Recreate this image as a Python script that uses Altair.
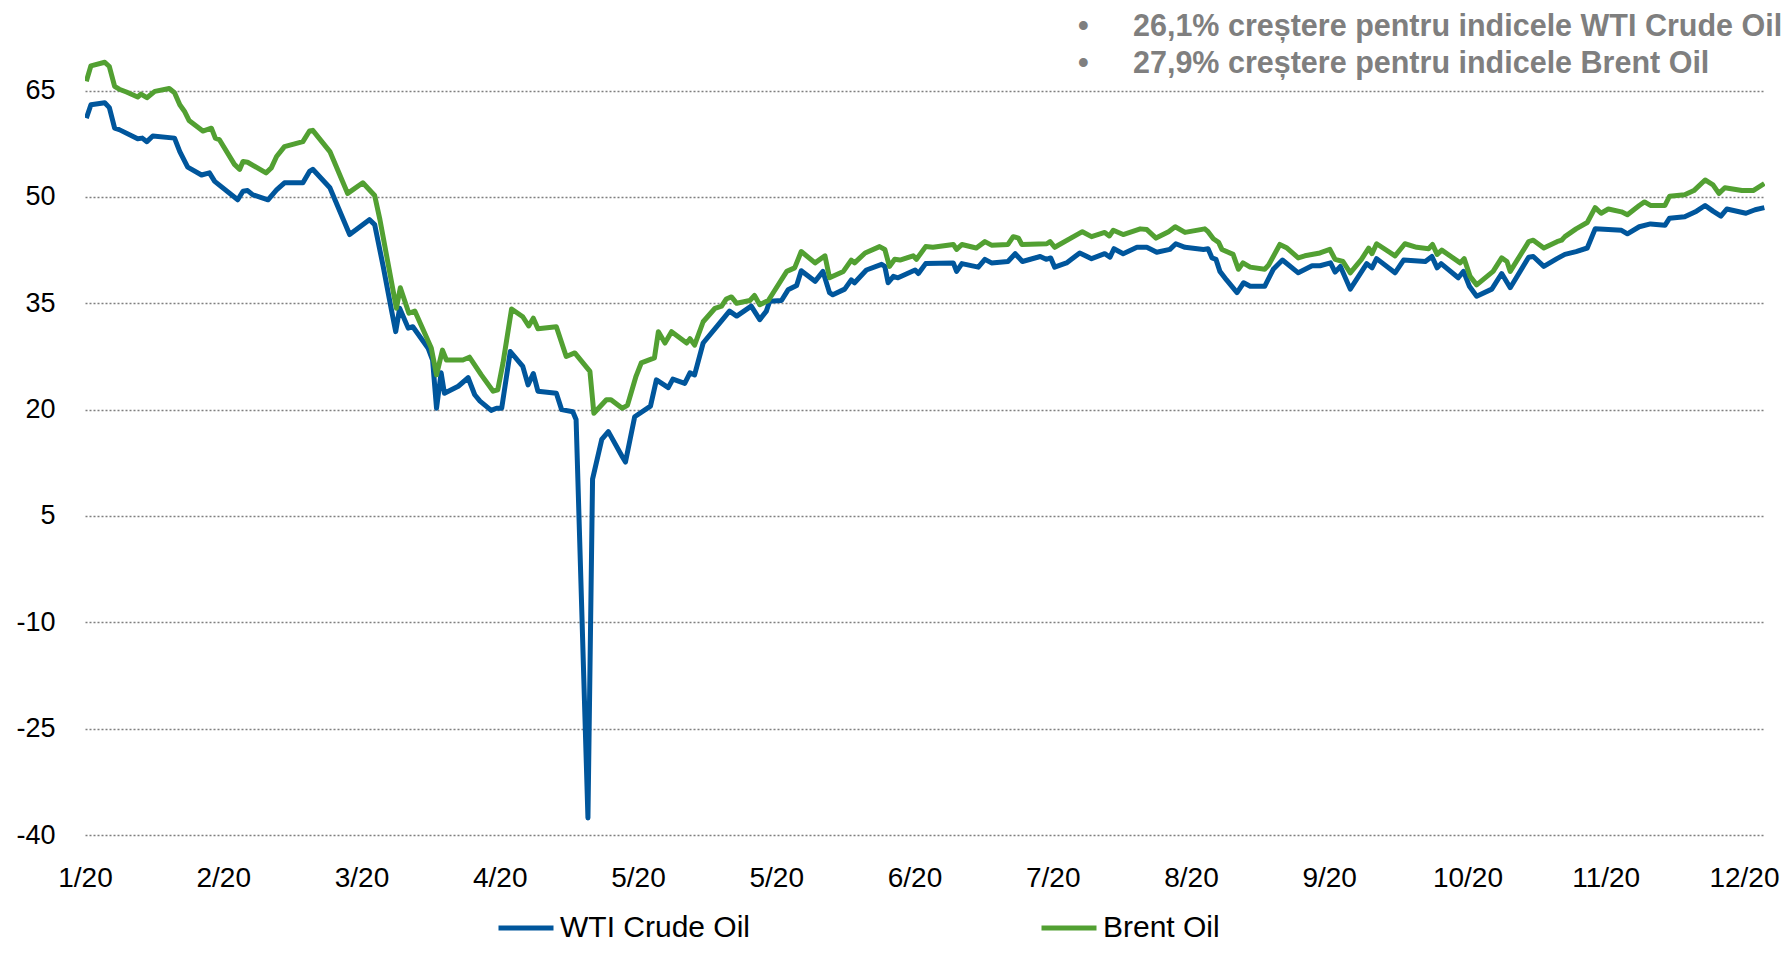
import json
import altair as alt
import pandas as pd

# x positions are trading-day indices (21 trading days between axis labels)
tick_days = [0, 21, 42, 63, 84, 105, 126, 147, 168, 189, 210, 231, 252]
tick_labels = ["1/20", "2/20", "3/20", "4/20", "5/20", "5/20", "6/20",
               "7/20", "8/20", "9/20", "10/20", "11/20", "12/20"]
y_ticks = [-40, -25, -10, 5, 20, 35, 50, 65]

series_names = ["WTI Crude Oil", "Brent Oil"]
series_colors = ["#00569c", "#52a032"]

wti_day = [0.2, 0.9, 3.0, 3.7, 4.5, 5.2, 8.0, 8.7, 9.4, 10.3, 13.6, 14.4, 15.6, 17.7,
           18.9, 19.7, 23.2, 24.0, 24.7, 25.5, 27.8, 29.1, 30.3, 33.1, 34.1, 34.6,
           37.2, 40.2, 43.2, 44.0, 45.3, 46.5, 47.2, 47.8, 49.1, 49.8, 52.1, 52.8,
           53.4, 54.1, 54.6, 56.7, 58.2, 59.2, 60.0, 61.7, 62.5, 63.3, 64.6, 66.5,
           67.3, 68.1, 68.8, 71.6, 72.4, 74.1, 74.6, 76.4, 77.1, 78.5, 79.5, 81.6,
           82.1, 83.5, 85.9, 86.8, 88.6, 89.3, 91.1, 91.9, 92.6, 93.9, 96.4, 97.9,
           99.0, 101.2, 102.5, 103.5, 104.0, 105.8, 106.8, 108.1, 108.8, 110.9,
           112.1, 113.1, 113.6, 115.4, 116.4, 116.9, 118.7, 121.0, 121.5, 122.0,
           122.8, 123.5, 126.1, 126.6, 127.7, 131.9, 132.4, 133.2, 135.7, 136.7,
           137.7, 140.2, 141.3, 142.4, 145.1, 146.0, 146.7, 147.3, 149.1, 151.1,
           152.9, 154.9, 155.7, 156.3, 157.7, 159.8, 161.3, 162.8, 164.8, 165.7,
           167.1, 169.9, 170.6, 171.2, 171.8, 172.4, 173.4, 175.0, 176.0, 177.0,
           179.2, 180.5, 181.9, 184.3, 186.4, 187.6, 189.2, 189.9, 190.7, 192.2,
           194.7, 195.5, 196.2, 199.0, 200.3, 203.6, 204.6, 205.4, 206.0, 208.6,
           209.4, 210.3, 211.4, 213.7, 215.2, 216.5, 219.3, 220.0, 221.6, 223.6,
           224.8, 226.5, 228.2, 229.4, 233.4, 234.3, 236.1, 237.8, 240.0, 240.7,
           243.0, 244.8, 246.1, 247.3, 248.5, 249.4, 252.3, 253.7, 255.1]
wti_val = [61.1, 63.0, 63.3, 62.6, 59.7, 59.5, 58.2, 58.3, 57.8, 58.6, 58.3, 56.4, 54.2,
           53.1, 53.4, 52.2, 49.6, 50.8, 50.9, 50.3, 49.6, 51.0, 52.0, 52.0, 53.6, 53.9,
           51.3, 44.7, 46.8, 46.1, 40.2, 34.3, 31.0, 34.3, 31.5, 31.7, 28.7, 27.0,
           20.2, 25.2, 22.3, 23.3, 24.5, 22.1, 21.2, 19.9, 20.2, 20.2, 28.2, 26.1,
           23.5, 25.1, 22.6, 22.3, 20.0, 19.7, 18.6, -37.6, 10.2, 15.8, 16.9, 13.4,
           12.6, 19.0, 20.5, 24.2, 23.1, 24.3, 23.7, 25.2, 24.9, 29.4, 32.2, 33.9,
           33.2, 34.6, 32.7, 33.9, 35.3, 35.4, 36.9, 37.5, 39.6, 38.1,
           39.5, 36.5, 36.2, 37.0, 38.3, 37.9, 39.7, 40.5, 40.2, 37.9,
           38.8, 38.6, 39.7, 39.2, 40.6, 40.7, 39.5, 40.6, 40.1, 41.2,
           40.7, 40.9, 42.0, 40.9, 41.6, 41.2, 41.4, 40.1, 40.7, 42.1,
           41.3, 42.0, 41.5, 42.7, 42.0, 42.9, 42.9, 42.2, 42.6, 43.4,
           42.9, 42.6, 42.7, 41.4, 41.2, 39.5, 38.3, 36.5, 37.9, 37.4,
           37.4, 39.8, 41.1, 39.3, 40.3, 40.3, 40.7, 39.4, 40.2, 37.0,
           40.6, 40.0, 41.3, 39.3, 41.1, 40.9, 41.6, 40.0, 40.6, 38.6,
           39.5, 37.4, 36.0, 37.0, 39.2, 37.2, 41.5, 41.6, 40.2, 41.3,
           41.9, 42.3, 42.8, 45.5, 45.3, 44.8, 45.8, 46.2, 46.0, 47.0,
           47.2, 48.0, 48.8, 48.0, 47.3, 48.3, 47.7, 48.2, 48.5]

brent_day = [0.2, 0.9, 3.0, 3.7, 4.5, 5.2, 6.3, 8.0, 8.5, 9.4, 10.6, 12.8, 13.6, 14.4,
             15.1, 15.8, 17.9, 19.2, 19.8, 20.4, 22.7, 23.5, 24.0, 24.7, 27.5, 28.3,
             29.1, 30.3, 33.1, 34.1, 34.6, 37.2, 39.9, 42.2, 44.0, 44.8, 47.3, 47.9,
             49.2, 50.1, 52.6, 53.4, 54.3, 54.9, 57.4, 58.4, 60.2, 62.0, 62.7, 63.5,
             64.8, 66.5, 67.4, 68.1, 68.8, 71.6, 73.1, 74.4, 76.7, 77.3, 79.2, 79.9,
             81.6, 82.4, 83.7, 84.5, 86.5, 87.1, 88.1, 89.1, 91.4, 91.9, 92.6, 93.9,
             95.7, 96.7, 97.4, 98.2, 99.0, 101.0, 101.7, 102.5, 103.8, 106.6, 107.8,
             108.8, 110.9, 112.4, 113.1, 115.2, 116.4, 116.9, 118.5, 120.7, 121.5,
             122.2, 123.0, 123.8, 125.8, 126.3, 127.7, 128.8, 131.9, 132.4, 133.2,
             135.4, 136.7, 137.7, 140.2, 141.0, 141.8, 142.3, 146.1, 146.6, 147.3,
             151.1, 151.5, 152.9, 154.9, 155.6, 156.2, 157.7, 160.3, 161.3, 162.7,
             164.6, 165.6, 167.1, 170.1, 170.6, 171.4, 172.2, 172.7, 174.4, 175.2,
             175.9, 177.0, 179.2, 179.8, 181.5, 182.6, 184.3, 185.3, 187.6, 189.1,
             189.9, 191.1, 192.2, 193.9, 195.0, 195.5, 196.2, 199.0, 200.5, 202.3,
             204.1, 204.7, 205.4, 206.1, 208.9, 209.5, 210.4, 211.4, 213.9, 215.2,
             216.0, 216.5, 219.3, 220.0, 221.6, 223.6, 224.3, 224.8, 226.5, 228.2,
             229.4, 230.3, 231.4, 233.4, 234.3, 236.1, 236.9, 237.8, 240.0, 240.7,
             243.0, 244.4, 246.1, 247.3, 248.2, 249.1, 251.7, 253.4, 255.1]
brent_val = [66.3, 68.5, 69.0, 68.4, 65.6, 65.2, 64.8, 64.1, 64.5, 64.0, 64.9, 65.3, 64.7,
             63.0, 62.1, 60.8, 59.3, 59.7, 58.3, 58.1, 54.6, 53.9, 55.0, 54.9, 53.4, 54.1,
             55.7, 57.1, 57.8, 59.3, 59.4, 56.4, 50.5, 52.0, 50.2, 46.8, 34.3, 37.2,
             33.6, 33.9, 28.7, 24.9, 28.4, 27.0, 27.0, 27.4, 24.9, 22.6, 22.8, 26.6,
             34.2, 33.1, 31.8, 32.9, 31.4, 31.7, 27.5, 28.0, 25.4, 19.5, 21.4, 21.4,
             20.2, 20.6, 24.7, 26.6, 27.3, 31.0, 29.4, 31.0, 29.4, 30.0, 29.1, 32.4,
             34.3, 34.6, 35.6, 35.9, 35.0, 35.4, 36.1, 34.8, 35.4, 39.5, 40.0,
             42.3, 40.7, 41.7, 38.6, 39.5, 41.1, 40.7, 42.1, 43.0, 42.6,
             40.2, 41.2, 41.1, 41.7, 41.2, 43.0, 42.9, 43.3, 42.6, 43.3,
             42.8, 43.7, 43.2, 43.3, 44.4, 44.2, 43.3, 43.4, 43.7, 42.9,
             44.9, 45.1, 44.4, 45.0, 44.5, 45.3, 44.7, 45.5, 45.4, 44.2,
             45.1, 45.8, 45.0, 45.5, 45.1, 44.1, 43.6, 42.6, 41.9, 39.8,
             40.7, 40.1, 39.8, 40.4, 43.3, 42.8, 41.4, 41.7, 42.1, 42.6,
             41.2, 40.9, 39.3, 41.2, 42.8, 42.0, 43.4, 41.7, 43.4, 42.9,
             42.7, 43.3, 41.9, 42.5, 40.7, 41.3, 38.8, 37.6, 39.5, 41.4,
             40.9, 39.5, 43.7, 43.9, 42.8, 43.7, 43.9, 44.4, 45.5, 46.4,
             48.5, 47.7, 48.3, 47.9, 47.5, 48.8, 49.3, 48.8, 48.8, 50.1,
             50.3, 50.9, 52.4, 51.7, 50.5, 51.3, 50.9, 50.9, 51.9]

note_lines = ["26,1% creștere pentru indicele WTI Crude Oil",
              "27,9% creștere pentru indicele Brent Oil"]

rows = []
for i, (d, v) in enumerate(zip(wti_day, wti_val)):
    rows.append({"day": d, "value": v, "series": series_names[0], "ord": i})
for i, (d, v) in enumerate(zip(brent_day, brent_val)):
    rows.append({"day": d, "value": v, "series": series_names[1], "ord": i})
df = pd.DataFrame(rows)

FONT = "Liberation Sans"
label_expr = json.dumps(tick_labels) + "[round(datum.value / 21)]"

lines = alt.Chart(df).mark_line(strokeWidth=5, strokeJoin="round", clip=True).encode(
    x=alt.X("day:Q",
            scale=alt.Scale(domain=[0, 255.2], nice=False, zero=False),
            axis=alt.Axis(values=tick_days, labelExpr=label_expr, title=None,
                          grid=False, domain=False, ticks=False, labelPadding=29,
                          labelFontSize=28, labelColor="#000000", labelFont=FONT,
                          labelOverlap=False, labelFlush=False)),
    y=alt.Y("value:Q",
            scale=alt.Scale(domain=[-40, 72], nice=False, zero=False),
            axis=alt.Axis(values=y_ticks, title=None, grid=True, gridDash=[2, 2],
                          gridColor="#7f7f7f", gridWidth=1.6, domain=False, ticks=False,
                          labelExpr="datum.value + ''",
                          labelPadding=30, labelFontSize=27, labelColor="#000000",
                          labelFont=FONT)),
    color=alt.Color("series:N",
                    scale=alt.Scale(domain=series_names, range=series_colors),
                    legend=alt.Legend(title=None, orient="none", direction="horizontal",
                                      legendX=411, legendY=857, symbolType="stroke",
                                      symbolSize=3025, symbolStrokeWidth=5,
                                      labelFontSize=30, labelFont=FONT,
                                      labelColor="#000000", labelOffset=4,
                                      columnPadding=280, labelLimit=400)),
    order="ord:Q",
)

bullet_style = dict(font=FONT, fontSize=30.5, fontWeight="bold", color="#7f7f7f",
                    align="left", baseline="middle")

note1 = alt.Chart(alt.Data(values=[{"t": note_lines[0]}])).mark_text(**bullet_style).encode(
    text="t:N", x=alt.value(1048), y=alt.value(-14))
note2 = alt.Chart(alt.Data(values=[{"t": note_lines[1]}])).mark_text(**bullet_style).encode(
    text="t:N", x=alt.value(1048), y=alt.value(23))
b1 = alt.Chart(alt.Data(values=[{"t": "•"}])).mark_text(**bullet_style).encode(
    text="t:N", x=alt.value(993), y=alt.value(-14))
b2 = alt.Chart(alt.Data(values=[{"t": "•"}])).mark_text(**bullet_style).encode(
    text="t:N", x=alt.value(993), y=alt.value(23))

chart = alt.layer(lines, note1, note2, b1, b2).properties(
    width=1680, height=794,
    autosize=alt.AutoSizeParams(type="none"),
    padding={"left": 77, "top": 33, "right": 18, "bottom": 113},
    background="#ffffff",
).configure_view(stroke=None)

chart.save("out.html", embed_options={"renderer": "svg", "actions": False})
